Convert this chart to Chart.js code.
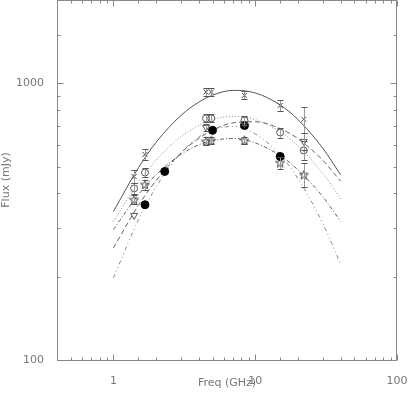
<!DOCTYPE html>
<html>
<head>
<meta charset="utf-8">
<script src="https://cdn.jsdelivr.net/npm/chart.js@4/dist/chart.umd.min.js"></script>
<style>
  body { margin: 0; background: #fff; }
  canvas { display: block; }
</style>
</head>
<body>
<canvas id="chart" width="409" height="398"></canvas>
<script>
// fitted spectra, sampled at these frequencies (GHz) -> flux (mJy)
var curveFreq = [1, 1.5, 2, 3, 4, 5, 7, 10, 15, 20, 30, 40]
var fitSolid = [344, 495, 612, 766, 855, 906, 943, 923, 835, 740, 582, 467]
var fitDotted = [317, 438, 528, 642, 705, 739, 760, 739, 668, 594, 472, 383]
var fitDashed = [254, 362, 445, 561, 632, 677, 720, 726, 686, 631, 527, 443]
var fitDashDot = [296, 396, 467, 554, 599, 621, 632, 609, 548, 487, 389, 317]
var fitDashDot2 = [198, 321, 422, 561, 639, 680, 698, 657, 551, 453, 311, 222]

// measured points
var freqCross = [1.4, 1.67, 4.5, 4.9, 8.4, 15, 22]
var fluxCross = [460, 553, 930, 930, 905, 832, 741]
var errCross = [25, 24, 31, 31, 30, 39, 78]

var freqCircle = [1.4, 1.67, 4.5, 4.9, 8.4, 15, 22]
var fluxCircle = [417, 476, 747, 747, 734, 664, 572]
var errCircle = [20, 18, 25, 25, 25, 28, 45]

var freqTri = [1.4, 4.5, 8.4, 22]
var fluxTri = [333, 693, 716, 617]
var errTri = [0, 20, 0, 42]

var freqFilled = [1.67, 2.3, 5.0, 8.4, 15]
var fluxFilled = [364, 480, 676, 704, 544]

var freqStar = [1.4, 1.67, 4.5, 4.9, 8.4, 15, 22]
var fluxStar = [380, 431, 617, 622, 622, 517, 468]
var errStar = [15, 18, 20, 20, 20, 25, 47]

var xTicksShown = [1, 10, 100]
var yTicksShown = [100, 1000]

function pts(xs, ys) {
  return xs.map(function(x, i) { return {x: x, y: ys[i]} })
}

function isDecade(v) {
  var l = Math.log10(v)
  return Math.abs(l - Math.round(l)) < 1e-6
}

function starImage(size, color) {
  var c = document.createElement('canvas')
  c.width = size
  c.height = size
  var ctx = c.getContext('2d')
  ctx.strokeStyle = color
  ctx.lineWidth = 1
  ctx.beginPath()
  for (var i = 0; i < 10; i++) {
    var r = i % 2 ? size * 0.2 : size * 0.47
    var a = -Math.PI / 2 + i * Math.PI / 5
    var px = size / 2 + r * Math.cos(a)
    var py = size / 2 + 0.5 + r * Math.sin(a)
    if (i) ctx.lineTo(px, py)
    else ctx.moveTo(px, py)
  }
  ctx.closePath()
  ctx.stroke()
  return c
}

var axisColor = '#888'
var textColor = '#777'
var font = {family: 'DejaVu Sans', size: 11}

// inward ticks on all four sides plus the box
var frame = {
  id: 'frame',
  afterDraw: function(chart) {
    var a = chart.chartArea
    var ctx = chart.ctx
    var xs = chart.scales.x
    var ys = chart.scales.y
    var l = Math.floor(a.left) + 0.5
    var r = Math.floor(a.right) - 0.5
    var t = Math.floor(a.top) + 0.5
    var b = Math.floor(a.bottom) + 0.5
    ctx.save()
    ctx.strokeStyle = axisColor
    ctx.lineWidth = 1
    ctx.beginPath()
    ctx.rect(l, t, r - l, b - t)
    xs.ticks.forEach(function(tk) {
      var px = Math.round(xs.getPixelForValue(tk.value)) + 0.5
      var len = isDecade(tk.value) ? 6 : 3
      ctx.moveTo(px, b)
      ctx.lineTo(px, b - len)
      ctx.moveTo(px, t)
      ctx.lineTo(px, t + len)
    })
    ys.ticks.forEach(function(tk) {
      var py = Math.round(ys.getPixelForValue(tk.value)) + 0.5
      var len = isDecade(tk.value) ? 6 : 3
      ctx.moveTo(l, py)
      ctx.lineTo(l + len, py)
      ctx.moveTo(r, py)
      ctx.lineTo(r - len, py)
    })
    ctx.stroke()
    ctx.restore()
  }
}

var errorBars = {
  id: 'errorBars',
  afterDatasetsDraw: function(chart) {
    var ctx = chart.ctx
    var xs = chart.scales.x
    var ys = chart.scales.y
    ctx.save()
    ctx.lineWidth = 1
    chart.data.datasets.forEach(function(ds) {
      if (!ds.errors) return
      ds.data.forEach(function(p, j) {
        var e = ds.errors[j]
        if (!e) return
        var px = Math.round(xs.getPixelForValue(p.x)) + 0.5
        var top = Math.round(ys.getPixelForValue(p.y + e)) + 0.5
        var bot = Math.round(ys.getPixelForValue(p.y - e)) + 0.5
        ctx.strokeStyle = '#999'
        ctx.beginPath()
        ctx.moveTo(px, top)
        ctx.lineTo(px, bot)
        ctx.stroke()
        ctx.strokeStyle = '#555'
        ctx.beginPath()
        ctx.moveTo(px - 3, top)
        ctx.lineTo(px + 3, top)
        ctx.moveTo(px - 3, bot)
        ctx.lineTo(px + 3, bot)
        ctx.stroke()
      })
    })
    ctx.restore()
  }
}

function curve(values, color, dash) {
  return {
    data: pts(curveFreq, values),
    showLine: true,
    pointRadius: 0,
    borderColor: color,
    borderWidth: 1,
    borderDash: dash,
    cubicInterpolationMode: 'monotone',
    fill: false,
  }
}

var chart = new Chart(document.getElementById('chart').getContext('2d'), {
  type: 'scatter',
  data: {
    datasets: [
      {
        data: pts(freqCross, fluxCross), errors: errCross,
        pointStyle: 'crossRot', pointRadius: 3.5, borderColor: '#444', borderWidth: 1,
      },
      {
        data: pts(freqCircle, fluxCircle), errors: errCircle,
        pointStyle: 'circle', pointRadius: 3.5, borderColor: '#555', backgroundColor: 'rgba(0,0,0,0)', borderWidth: 1,
      },
      {
        data: pts(freqTri, fluxTri), errors: errTri,
        pointStyle: 'triangle', pointRotation: 180, pointRadius: 4, borderColor: '#555', backgroundColor: 'rgba(0,0,0,0)', borderWidth: 1,
      },
      {
        data: pts(freqFilled, fluxFilled),
        pointStyle: 'circle', pointRadius: 4, borderColor: '#000', backgroundColor: '#000', borderWidth: 1,
      },
      {
        data: pts(freqStar, fluxStar), errors: errStar,
        pointStyle: starImage(10, '#444'),
      },
      curve(fitSolid, '#555', []),
      curve(fitDotted, '#888', [1, 2]),
      curve(fitDashed, '#666', [5, 3]),
      curve(fitDashDot, '#666', [4, 2, 1, 2]),
      curve(fitDashDot2, '#888', [4, 3, 1, 3, 1, 3]),
    ],
  },
  options: {
    responsive: false,
    animation: false,
    devicePixelRatio: 1,
    layout: {autoPadding: false, padding: {left: 0, right: 12, top: 0, bottom: 0}},
    plugins: {legend: {display: false}, tooltip: {enabled: false}},
    scales: {
      x: {
        type: 'logarithmic',
        min: 0.4,
        max: 100,
        grid: {display: false},
        border: {display: false},
        ticks: {
          autoSkip: false, maxRotation: 0, padding: 7, color: textColor, font: font,
          callback: function(v) { return xTicksShown.indexOf(v) >= 0 ? String(v) : '' },
        },
        title: {display: true, text: 'Freq (GHz)', color: textColor, font: font, padding: {top: 0, bottom: 8}},
        afterFit: function(s) { s.height = 38; s.paddingLeft = 0; s.paddingRight = 0 },
      },
      y: {
        type: 'logarithmic',
        min: 100,
        max: 2000,
        grid: {display: false},
        border: {display: false},
        ticks: {
          autoSkip: false, padding: 5, color: textColor, font: font,
          callback: function(v) { return yTicksShown.indexOf(v) >= 0 ? String(v) : '' },
        },
        title: {display: true, text: 'Flux (mJy)', color: textColor, font: font, padding: {top: 0, bottom: 0}},
        afterFit: function(s) { s.width = 57; s.paddingTop = 0; s.paddingBottom = 0 },
      },
    },
  },
  plugins: [frame, errorBars],
})
</script>
</body>
</html>
